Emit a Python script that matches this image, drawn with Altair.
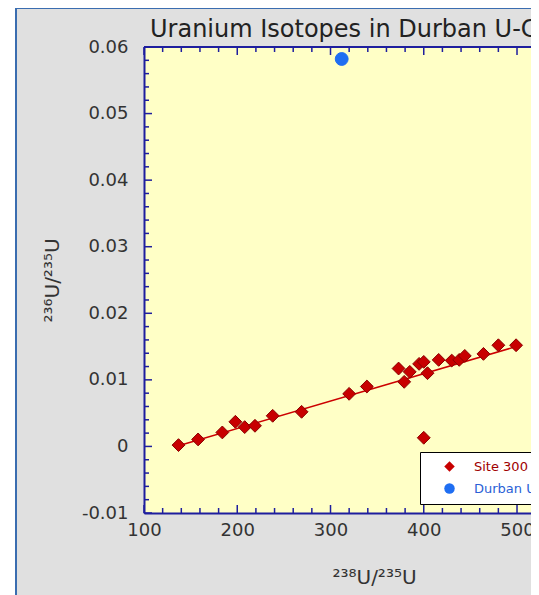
import altair as alt
import pandas as pd

# ---- data ----
site_x = [137, 158, 184, 198, 208, 219, 238, 269, 320, 339, 373, 379, 385, 395,
          400, 404, 416, 430, 438, 444, 464, 480, 499, 400]
site_y = [0.0002, 0.00105, 0.0021, 0.0037, 0.0029, 0.0031, 0.0046, 0.0052, 0.0079,
          0.0090, 0.0117, 0.0097, 0.0112, 0.0124, 0.0127, 0.0110, 0.0130, 0.0129,
          0.0130, 0.0136, 0.0139, 0.0152, 0.0152, 0.0013]
durban_x = [312]
durban_y = [0.0582]
fit_x = [137, 499]
fit_y = [0.0001, 0.0150]

x_labels = [100, 200, 300, 400, 500]
y_labels = [-0.01, 0.0, 0.01, 0.02, 0.03, 0.04, 0.05, 0.06]
x_minor = list(range(100, 516, 20))
y_minor = [round(-0.01 + 0.002 * i, 3) for i in range(36)]

series_names = ["Site 300", "Durban U"]
title_text = "Uranium Isotopes in Durban U-Contamination"

# ---- layout ----
W, H = 387, 466
NAVY = "#1e1e9e"
FONT = "DejaVu Sans"

pts = pd.DataFrame({
    "x": site_x + durban_x,
    "y": site_y + durban_y,
    "series": [series_names[0]] * len(site_x) + [series_names[1]] * len(durban_x),
})
fit = pd.DataFrame({"x": fit_x, "y": fit_y})
xt = pd.DataFrame({"x": x_minor})
yt = pd.DataFrame({"y": y_minor})
one = pd.DataFrame({"a": [0]})

xscale = alt.Scale(domain=[100, 515], nice=False, zero=False)
yscale = alt.Scale(domain=[-0.01, 0.06], nice=False, zero=False)

X = alt.X("x:Q", scale=xscale, axis=alt.Axis(
    values=x_labels, format="d", ticks=False, grid=False, tickSize=0, zindex=1,
    domainColor=NAVY, domainWidth=2, labelFont=FONT, labelFontSize=18,
    labelColor="#333333", labelPadding=8, labelFlush=False, labelOverlap=False,
    title="²³⁸U/²³⁵U", titleFont=FONT, titleFontSize=20, titleFontWeight="normal",
    titleColor="#333333", titleX=230, titleY=70, titleBaseline="alphabetic",
    titleAnchor="start", titleAlign="center"))
Y = alt.Y("y:Q", scale=yscale, axis=alt.Axis(
    values=y_labels, ticks=False, grid=False, tickSize=0, zindex=1,
    labelExpr="replace(format(datum.value, '.2~f'), '\u2212', '-')",
    domainColor=NAVY, domainWidth=2, labelFont=FONT, labelFontSize=18,
    labelColor="#333333", labelPadding=16, labelFlush=False, labelOverlap=False,
    title="²³⁶U/²³⁵U", titleFont=FONT, titleFontSize=20, titleFontWeight="normal",
    titleColor="#333333", titleX=-86, titleY=233, titleAngle=270,
    titleBaseline="alphabetic", titleAlign="center", titleAnchor="start"))

bg = alt.Chart(one).mark_rect(fill="#e0e0e0", stroke="#3a6db0", strokeWidth=2).encode(
    x=alt.value(-128), x2=alt.value(W + 40), y=alt.value(-39), y2=alt.value(H + 140))
panel = alt.Chart(one).mark_rect(fill="#ffffc6").encode(
    x=alt.value(0), x2=alt.value(W + 20), y=alt.value(0), y2=alt.value(H))
top_border = alt.Chart(one).mark_rule(color=NAVY, strokeWidth=2).encode(
    x=alt.value(0), x2=alt.value(W + 20), y=alt.value(0))
title = alt.Chart(one).mark_text(
    align="left", baseline="alphabetic", font=FONT, fontSize=24, color="#222222"
).encode(x=alt.value(6), y=alt.value(-10), text=alt.value(title_text))

def is_major(v, step):
    return abs(round(v / step) - v / step) < 1e-6

xt_major = xt[xt["x"].apply(lambda v: is_major(v, 100))]
xt_minor = xt[~xt["x"].apply(lambda v: is_major(v, 100))]
yt_major = yt[yt["y"].apply(lambda v: is_major(v, 0.01))]
yt_minor = yt[~yt["y"].apply(lambda v: is_major(v, 0.01))]

tick_layers = []
for d, ln in ((xt_major, 8), (xt_minor, 5)):
    tick_layers.append(alt.Chart(d).mark_rule(color=NAVY, strokeWidth=1.5).encode(
        x=X, y=alt.value(H), y2=alt.value(H - ln)))
    tick_layers.append(alt.Chart(d).mark_rule(color=NAVY, strokeWidth=1.5).encode(
        x=X, y=alt.value(0), y2=alt.value(ln)))
for d, ln in ((yt_major, 8), (yt_minor, 5)):
    tick_layers.append(alt.Chart(d).mark_rule(color=NAVY, strokeWidth=1.5).encode(
        y=Y, x=alt.value(0), x2=alt.value(ln)))

line = alt.Chart(fit).mark_line(color="#cc0000", strokeWidth=1.5).encode(x=X, y=Y)

points = alt.Chart(pts).mark_point(filled=True, opacity=1, size=165, strokeWidth=1).encode(
    x=X, y=Y,
    color=alt.Color("series:N", scale=alt.Scale(domain=series_names, range=["#c80000", "#1f6ef2"]),
                    legend=alt.Legend(title=None, orient="none", legendX=276, legendY=405,
                                      fillColor="white", strokeColor="black", padding=8,
                                      symbolSize=110, symbolOffset=15, labelOffset=18,
                                      rowPadding=8, labelFont=FONT, labelFontSize=13,
                                      labelColor=alt.ExprRef("datum.label == 'Site 300' ? '#a00000' : '#2a5fd6'"),
                                      symbolStrokeWidth=0)),
    shape=alt.Shape("series:N", scale=alt.Scale(domain=series_names, range=["diamond", "circle"])),
    stroke=alt.Stroke("series:N", scale=alt.Scale(domain=series_names, range=["#8a0000", "#1f6ef2"]),
                      legend=None),
)

chart = alt.layer(bg, panel, *tick_layers, top_border, line, points, title).properties(
    width=W, height=H,
    autosize=alt.AutoSizeParams(type="none"),
    padding={"left": 136, "top": 39, "right": 0, "bottom": 82},
    background="white",
).configure_view(stroke=None)

chart.save("out.html", embed_options={"renderer": "svg", "actions": False})
